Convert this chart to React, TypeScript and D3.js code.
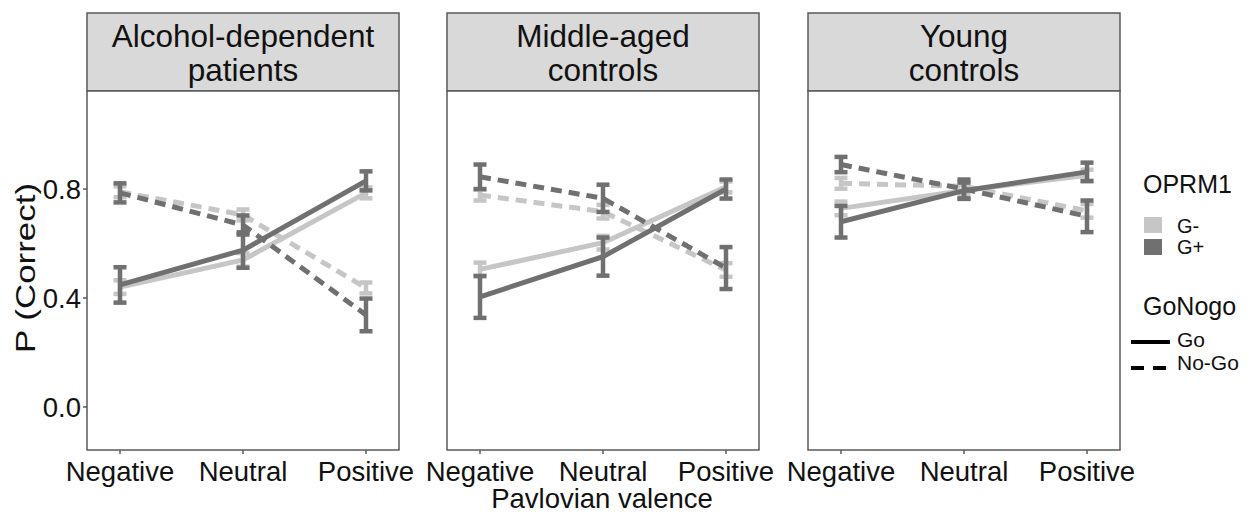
import React from "react";
import * as d3 from "d3";

const groups = ["Alcohol-dependent patients", "Middle-aged controls", "Young controls"];
const groupLines = [["Alcohol-dependent", "patients"], ["Middle-aged", "controls"], ["Young", "controls"]];
const valences = ["Negative", "Neutral", "Positive"];
const genotypes = ["G-", "G+"];
const goNogo = ["Go", "No-Go"];
const yTicks = [0.0, 0.4, 0.8];

// values per group
const goGminus = [[0.44, 0.54, 0.786], [0.505, 0.603, 0.808], [0.729, 0.795, 0.851]];
const goGminusSe = [[0.025, 0.025, 0.02], [0.025, 0.025, 0.02], [0.025, 0.02, 0.02]];
const goGplus = [[0.448, 0.576, 0.83], [0.404, 0.552, 0.80], [0.68, 0.794, 0.863]];
const goGplusSe = [[0.065, 0.065, 0.035], [0.077, 0.07, 0.035], [0.058, 0.03, 0.034]];
const nogoGminus = [[0.79, 0.705, 0.437], [0.778, 0.717, 0.503], [0.821, 0.81, 0.72]];
const nogoGminusSe = [[0.02, 0.02, 0.02], [0.02, 0.025, 0.025], [0.02, 0.02, 0.025]];
const nogoGplus = [[0.786, 0.668, 0.338], [0.845, 0.766, 0.51], [0.89, 0.80, 0.70]];
const nogoGplusSe = [[0.035, 0.035, 0.06], [0.045, 0.05, 0.077], [0.028, 0.035, 0.058]];

const colors: Record<string, string> = { "G-": "#c6c6c6", "G+": "#707070" };
const FONT = "'Liberation Sans', Arial, sans-serif";

const panelLefts = [87, 447, 808];
const panelWidth = 312;
const stripTop = 13;
const panelTop = 91;
const panelBottom = 450;

export default function App() {
  const y = d3.scaleLinear().domain([-0.158, 1.16]).range([panelBottom, panelTop]);
  const line = (xs: d3.ScalePoint<string>) =>
    d3.line<[string, number]>().x((d) => xs(d[0])!).y((d) => y(d[1]));

  const series = [
    { g: "G-", type: "Go", vals: goGminus, se: goGminusSe },
    { g: "G-", type: "No-Go", vals: nogoGminus, se: nogoGminusSe },
    { g: "G+", type: "Go", vals: goGplus, se: goGplusSe },
    { g: "G+", type: "No-Go", vals: nogoGplus, se: nogoGplusSe },
  ];

  return (
    <svg width={1257} height={514} style={{ position: "absolute", left: 0, top: 0, background: "#fff" }} fontFamily={FONT}>
      {groups.map((grp, gi) => {
        const left = panelLefts[gi];
        const xs = d3.scalePoint<string>().domain(valences).range([left + 33, left + panelWidth - 33]);
        return (
          <g key={grp}>
            <rect x={left} y={stripTop} width={panelWidth} height={panelTop - stripTop} fill="#d9d9d9" stroke="#5a5a5a" strokeWidth={1.5} />
            {groupLines[gi].map((t, li) => (
              <text key={t} x={left + panelWidth / 2} y={47 + li * 34} textAnchor="middle" fontSize={31.5} fill="#111">{t}</text>
            ))}
            <rect x={left} y={panelTop} width={panelWidth} height={panelBottom - panelTop} fill="#fff" stroke="#5a5a5a" strokeWidth={1.5} />
            {series.map((s) => {
              const pts: [string, number][] = valences.map((v, vi) => [v, s.vals[gi][vi]]);
              return (
                <g key={s.g + s.type}>
                  <path d={line(xs)(pts)!} fill="none" stroke={colors[s.g]} strokeWidth={5}
                    strokeDasharray={s.type === "No-Go" ? "11,7" : undefined} />
                  {valences.map((v, vi) => {
                    const cx = xs(v)!;
                    const lo = y(s.vals[gi][vi] - s.se[gi][vi]);
                    const hi = y(s.vals[gi][vi] + s.se[gi][vi]);
                    return (
                      <g key={v} stroke={colors[s.g]} strokeWidth={4.5}>
                        <line x1={cx} x2={cx} y1={lo} y2={hi} />
                        <line x1={cx - 6.5} x2={cx + 6.5} y1={lo} y2={lo} />
                        <line x1={cx - 6.5} x2={cx + 6.5} y1={hi} y2={hi} />
                      </g>
                    );
                  })}
                </g>
              );
            })}
            {valences.map((v) => (
              <g key={v}>
                <line x1={xs(v)} x2={xs(v)} y1={panelBottom} y2={panelBottom + 4} stroke="#5a5a5a" strokeWidth={1.5} />
                <text x={xs(v)} y={481} textAnchor="middle" fontSize={27.5} fill="#111">{v}</text>
              </g>
            ))}
            {gi === 0 && yTicks.map((t) => (
              <g key={t}>
                <line x1={left - 4} x2={left} y1={y(t)} y2={y(t)} stroke="#5a5a5a" strokeWidth={1.5} />
                <text x={left - 6} y={y(t) + 10} textAnchor="end" fontSize={27.5} fill="#111">{t.toFixed(1)}</text>
              </g>
            ))}
          </g>
        );
      })}
      <text x={602} y={508} textAnchor="middle" fontSize={27.5} fill="#111">Pavlovian valence</text>
      <text transform="translate(35,268) rotate(-90)" textAnchor="middle" fontSize={28} fill="#111"
        textLength={170} lengthAdjust="spacingAndGlyphs">P (Correct)</text>

      <text x={1143} y={193} fontSize={25} fill="#111">OPRM1</text>
      {genotypes.map((g, i) => (
        <g key={g}>
          <rect x={1144} y={217 + i * 22} width={18} height={16} fill={colors[g]} />
          <text x={1177} y={233 + i * 21} fontSize={20} fill="#111">{g}</text>
        </g>
      ))}
      <text x={1143} y={315} fontSize={25} fill="#111">GoNogo</text>
      {goNogo.map((t, i) => (
        <g key={t}>
          <line x1={1131} x2={1170} y1={342 + i * 26} y2={342 + i * 26} stroke="#000" strokeWidth={4}
            strokeDasharray={t === "No-Go" ? "13,9" : undefined} />
          <text x={1177} y={347 + i * 23} fontSize={21} fill="#111">{t}</text>
        </g>
      ))}
    </svg>
  );
}
